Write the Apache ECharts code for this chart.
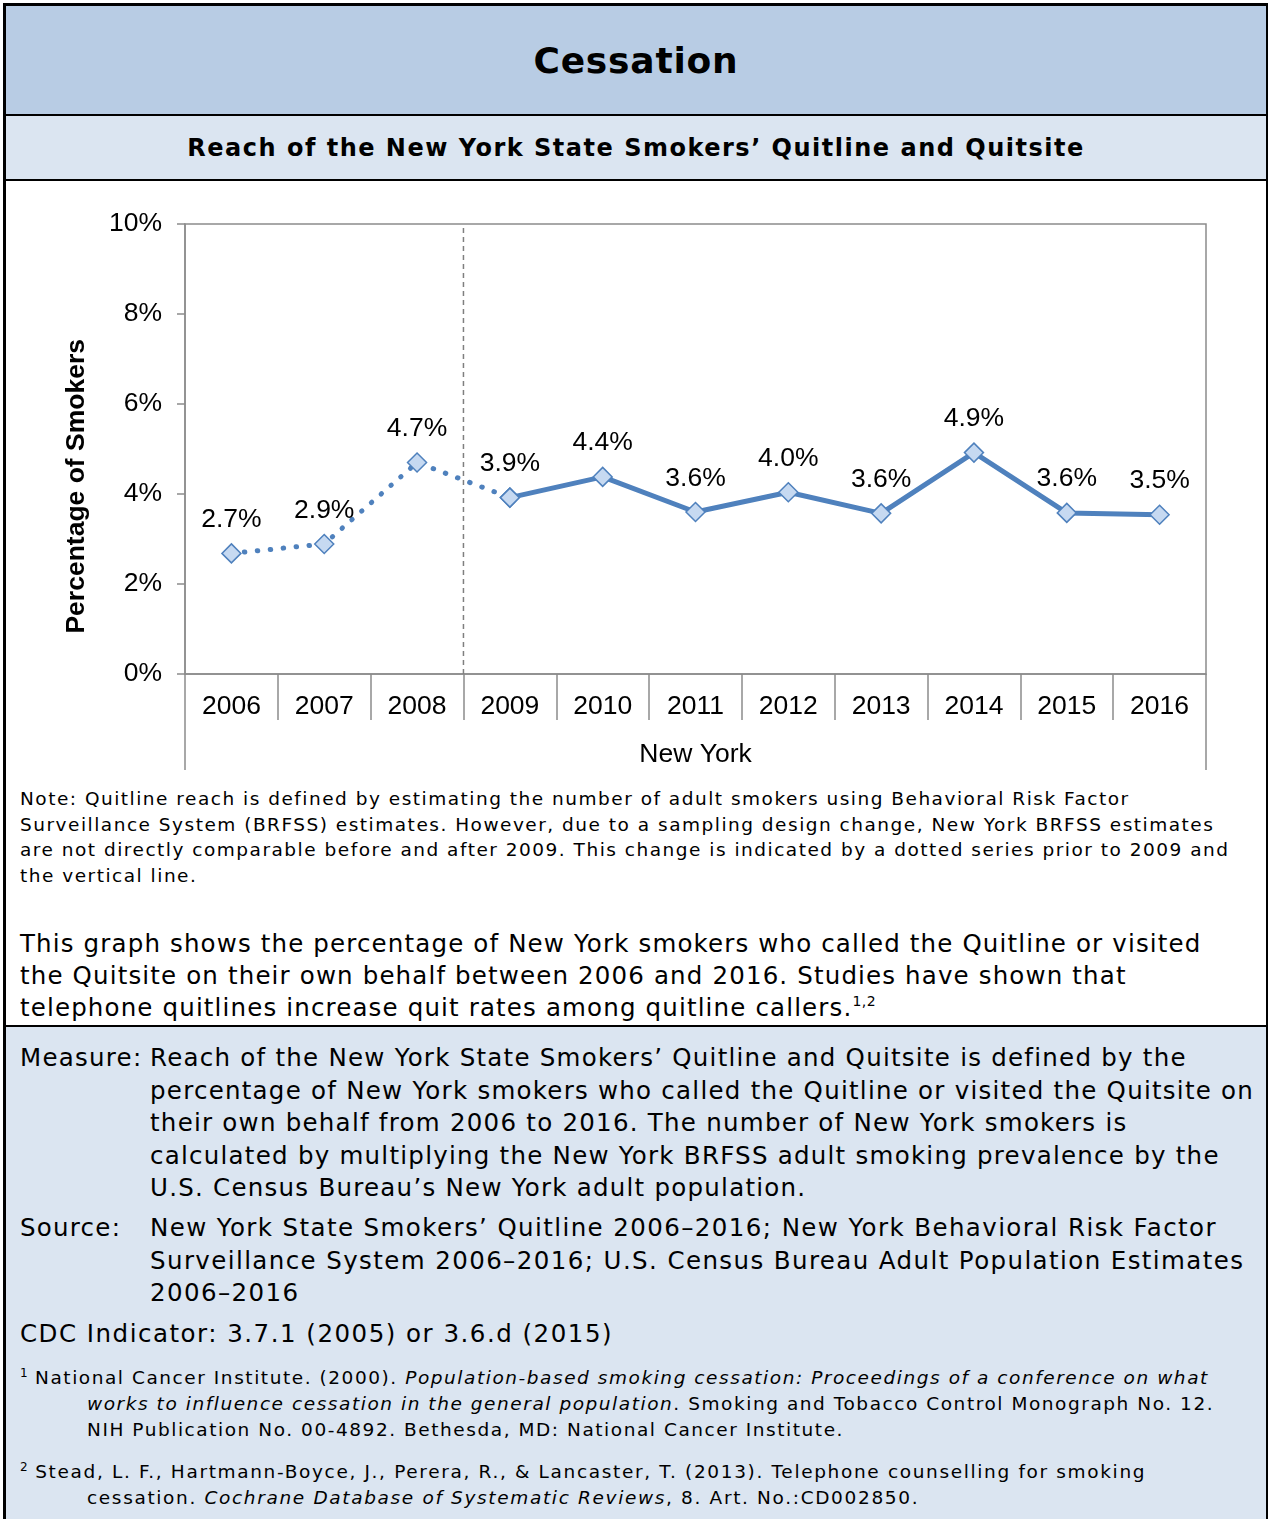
<!DOCTYPE html>
<html>
<head>
<meta charset="utf-8">
<script src="https://cdn.jsdelivr.net/npm/echarts@6/dist/echarts.min.js"></script>
<style>
  html, body { margin: 0; padding: 0; background: #fff; }
  body { width: 1268px; height: 1519px; position: relative; overflow: hidden; font-family: "DejaVu Sans", Verdana, sans-serif; color: #000; }
  #frame { position: absolute; left: 3px; top: 3px; width: 1260px; height: 1516px; border: 3px solid #000; border-bottom: none; }
  #head { position: absolute; left: 6px; top: 6px; width: 1260px; height: 108px; background: #b8cce4; border-bottom: 2px solid #000; }
  #head div { position: absolute; left: 0; right: 0; top: 33px; text-align: center; font-weight: bold; font-size: 36px; line-height: 44px; letter-spacing: 0.8px; }
  #sub { position: absolute; left: 6px; top: 116px; width: 1260px; height: 63px; background: #dbe5f1; border-bottom: 2px solid #000; }
  #sub div { position: absolute; left: 0; right: 0; top: 17px; text-align: center; font-weight: bold; font-size: 24px; line-height: 30px; letter-spacing: 1.5px; }
  #main { position: absolute; left: 0; top: 181px; width: 1268px; height: 600px; }
  .note { position: absolute; left: 20px; top: 786px; font-size: 18.5px; line-height: 25.6px; white-space: nowrap; letter-spacing: 1.5px; }
  .para { position: absolute; left: 20px; top: 928px; font-size: 24.5px; line-height: 32.2px; white-space: nowrap; letter-spacing: 1.15px; }
  .para sup { font-size: 14px; vertical-align: 10px; line-height: 0; letter-spacing: 0.5px; }
  #lower { position: absolute; left: 6px; top: 1025px; width: 1260px; height: 494px; background: #dbe5f1; border-top: 2px solid #000; }
  .row { position: absolute; font-size: 24.5px; line-height: 32.5px; white-space: nowrap; letter-spacing: 1.25px; }
  .lbl { position: absolute; left: 20px; }
  .txt { position: absolute; left: 150px; }
  .fn { position: absolute; font-size: 18.5px; line-height: 26px; white-space: nowrap; letter-spacing: 1.55px; }
  .fn sup { font-size: 12px; vertical-align: 7px; line-height: 0; letter-spacing: 0; }
</style>
</head>
<body>
<div id="frame"></div>
<div id="head"><div>Cessation</div></div>
<div id="sub"><div>Reach of the New York State Smokers’ Quitline and Quitsite</div></div>
<div id="main"></div>
<div class="note">Note: Quitline reach is defined by estimating the number of adult smokers using Behavioral Risk Factor<br>Surveillance System (BRFSS) estimates. However, due to a sampling design change, New York BRFSS estimates<br>are not directly comparable before and after 2009. This change is indicated by a dotted series prior to 2009 and<br>the vertical line.</div>
<div class="para">This graph shows the percentage of New York smokers who called the Quitline or visited<br>the Quitsite on their own behalf between 2006 and 2016. Studies have shown that<br>telephone quitlines increase quit rates among quitline callers.<sup>1,2</sup></div>
<div id="lower"></div>
<div class="row lbl" style="top:1042px">Measure:</div>
<div class="row txt" style="top:1042px">Reach of the New York State Smokers’ Quitline and Quitsite is defined by the<br>percentage of New York smokers who called the Quitline or visited the Quitsite on<br>their own behalf from 2006 to 2016. The number of New York smokers is<br>calculated by multiplying the New York BRFSS adult smoking prevalence by the<br>U.S. Census Bureau’s New York adult population.</div>
<div class="row lbl" style="top:1212px">Source:</div>
<div class="row txt" style="top:1212px;letter-spacing:1.4px">New York State Smokers’ Quitline 2006–2016; New York Behavioral Risk Factor<br>Surveillance System 2006–2016; U.S. Census Bureau Adult Population Estimates<br>2006–2016</div>
<div class="row lbl" style="top:1318px;letter-spacing:1.5px">CDC Indicator: 3.7.1 (2005) or 3.6.d (2015)</div>
<div class="fn" style="left:20px;top:1365px"><sup>1</sup> National Cancer Institute. (2000). <i>Population-based smoking cessation: Proceedings of a conference on what</i></div>
<div class="fn" style="left:87px;top:1391px"><i>works to influence cessation in the general population</i>. Smoking and Tobacco Control Monograph No. 12.<br>NIH Publication No. 00-4892. Bethesda, MD: National Cancer Institute.</div>
<div class="fn" style="left:20px;top:1459px;letter-spacing:1.65px"><sup>2</sup> Stead, L. F., Hartmann-Boyce, J., Perera, R., &amp; Lancaster, T. (2013). Telephone counselling for smoking</div>
<div class="fn" style="left:87px;top:1485px;letter-spacing:1.65px">cessation. <i>Cochrane Database of Systematic Reviews</i>, 8. Art. No.:CD002850.</div>

<script>
// 年份与数值
var years = ['2006', '2007', '2008', '2009', '2010', '2011', '2012', '2013', '2014', '2015', '2016'];
var reach = [2.68, 2.89, 4.70, 3.92, 4.38, 3.60, 4.04, 3.57, 4.92, 3.58, 3.54];
var breakIndex = 3; // 2009: sampling design change
var groupLabel = ['New York'];
var yTicks = [0, 2, 4, 6, 8, 10];

var lineColor = '#4f81bd';
var axisColor = '#8c8c8c';
var chartFont = 'Liberation Sans, Arial, sans-serif';

var myChart = echarts.init(document.getElementById('main'));

var labelStyle = {
    show: true,
    position: 'top',
    distance: 10,
    fontFamily: chartFont,
    fontSize: 26.5,
    color: '#000',
    formatter: function (p) { return p.value.toFixed(1) + '%'; }
};

// 虚线系列：2006–2009（2009 标签只在实线上显示）
var before = reach.map(function (v, i) {
    if (i > breakIndex) return null;
    if (i === breakIndex) return { value: v, label: { show: false } };
    return v;
});
var after = reach.map(function (v, i) { return i >= breakIndex ? v : null; });

var option = {
    animation: false,
    grid: { left: 185, right: 62, top: 43, bottom: 107, show: true, borderColor: axisColor, borderWidth: 1.5 },
    xAxis: [{
        type: 'category',
        data: years,
        boundaryGap: true,
        axisLine: { lineStyle: { color: axisColor, width: 1.5 } },
        axisTick: { show: true, interval: 0, length: 46, lineStyle: { color: axisColor, width: 1.5 } },
        axisLabel: { interval: 0, margin: 19, fontFamily: chartFont, fontSize: 26.5, color: '#000' }
    }, {
        type: 'category',
        data: groupLabel,
        position: 'bottom',
        boundaryGap: true,
        axisLine: { show: false },
        axisTick: { show: true, interval: 0, length: 96, lineStyle: { color: axisColor, width: 1.5 } },
        axisLabel: { margin: 67, fontFamily: chartFont, fontSize: 26.5, color: '#000' }
    }, {
        // 分界线用的隐藏数值轴：0..年数，类目边界 = 整数
        type: 'value',
        min: 0,
        max: years.length,
        show: false
    }],
    yAxis: {
        type: 'value',
        min: yTicks[0],
        max: yTicks[yTicks.length - 1],
        interval: 2,
        axisLine: { show: true, lineStyle: { color: axisColor, width: 1.5 } },
        axisTick: { show: true, length: 8, lineStyle: { color: axisColor, width: 1.5 } },
        splitLine: { show: false },
        axisLabel: { margin: 23, fontFamily: chartFont, fontSize: 26.5, color: '#000', formatter: '{value}%' }
    },
    graphic: [{
        type: 'text',
        left: 63,
        top: 158,
        rotation: Math.PI / 2,
        style: { text: 'Percentage of Smokers', font: 'bold 26.5px "Liberation Sans", Arial, sans-serif', fill: '#000' }
    }],
    series: [{
        name: 'divider',
        type: 'line',
        xAxisIndex: 2,
        data: [[breakIndex, yTicks[0]], [breakIndex, yTicks[yTicks.length - 1]]],
        symbol: 'none',
        silent: true,
        z: 1,
        lineStyle: { color: '#7f7f7f', type: [5, 4], width: 1.5 }
    }, {
        name: 'before',
        type: 'line',
        data: before,
        z: 2,
        symbol: 'diamond',
        symbolSize: 19,
        lineStyle: { color: lineColor, width: 5, type: [0.5, 12.5], cap: 'round' },
        itemStyle: { color: '#c6d9f1', borderColor: lineColor, borderWidth: 1.5 },
        label: labelStyle
    }, {
        name: 'after',
        type: 'line',
        data: after,
        z: 3,
        symbol: 'diamond',
        symbolSize: 19,
        lineStyle: { color: lineColor, width: 5 },
        itemStyle: { color: '#c6d9f1', borderColor: lineColor, borderWidth: 1.5 },
        label: labelStyle
    }]
};

myChart.setOption(option);
window.onresize = myChart.resize;
</script>
</body>
</html>
